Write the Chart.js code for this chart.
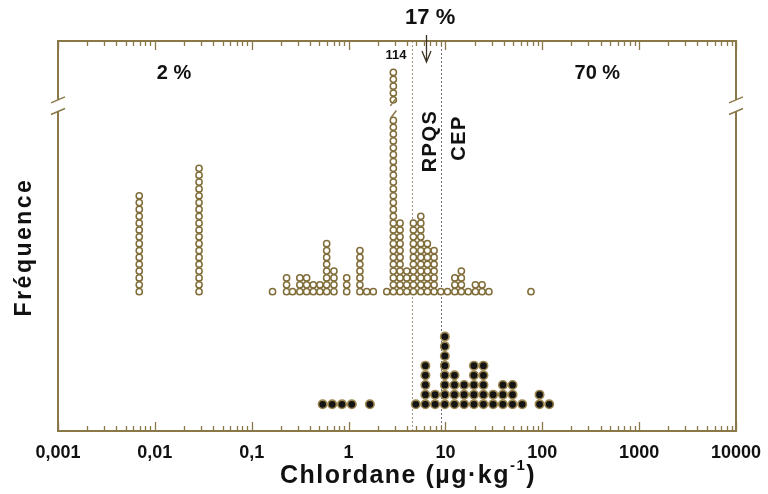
<!DOCTYPE html>
<html>
<head>
<meta charset="utf-8">
<script src="https://cdn.jsdelivr.net/npm/chart.js@4.4.1/dist/chart.umd.min.js"></script>
<style>
  html, body { margin: 0; padding: 0; background: #fff; }
</style>
</head>
<body>
<canvas id="dotchart" width="768" height="494"></canvas>
<script>
// upper dot plot (open circles): bin centre in µg/kg and number of samples in the bin
const upperBins = [0.0069, 0.0286, 0.164, 0.229, 0.264, 0.314, 0.369, 0.432, 0.506, 0.594, 0.706, 0.956,
  1.31, 1.54, 1.80, 2.48, 2.90, 3.40, 3.99, 4.67, 5.57, 6.51, 7.64, 8.96, 10.5, 12.5, 14.6, 17.2,
  20.4, 23.9, 28.1, 76.4];
const upperCounts = [15, 19, 1, 3, 1, 3, 3, 2, 2, 8, 4, 3,
  7, 1, 1, 1, 114, 11, 4, 11, 12, 8, 7, 1, 1, 3, 4, 1,
  2, 2, 1, 1];

// lower dot plot (filled circles)
const lowerBins = [0.54, 0.678, 0.855, 1.08, 1.66, 4.94, 6.21, 7.82, 9.86, 12.4, 15.6, 19.7,
  24.7, 31.1, 39.2, 49.3, 62.1, 93.7, 118];
const lowerCounts = [1, 1, 1, 1, 1, 1, 5, 2, 8, 4, 3, 5, 5, 2, 3, 3, 1, 2, 1];

const tickValues = [0.001, 0.01, 0.1, 1, 10, 100, 1000, 10000];
const tickLabels = ['0,001', '0,01', '0,1', '1', '10', '100', '1000', '10000'];

const rpqs = 4.5;   // RPQS
const cep = 8.9;    // CEP

// the 114 column is cut by the axis break
const shownBelowBreak = 26;
const shownAboveBreak = 5;
const breakRows = [27.3, 29.0];

const olive = '#8a7848';

function stackPoints(bins, counts) {
  const pts = [];
  bins.forEach((b, i) => {
    const n = counts[i];
    for (let k = 1; k <= n; k++) {
      if (n > shownBelowBreak + shownAboveBreak + 10) {
        if (k <= shownBelowBreak) pts.push({ x: b, y: k });
        else if (k > n - shownAboveBreak) pts.push({ x: b, y: k - n + shownBelowBreak + 2 + shownAboveBreak });
      } else {
        pts.push({ x: b, y: k });
      }
    }
  });
  return pts;
}

const decor = {
  id: 'decor',
  beforeDatasetsDraw(chart) {
    const { ctx, chartArea: a, scales: { x } } = chart;
    ctx.save();
    ctx.lineWidth = 1;
    ctx.setLineDash([2, 2]);
    ctx.strokeStyle = '#a89b7c';
    let px = Math.round(x.getPixelForValue(rpqs)) + 0.5;
    ctx.beginPath(); ctx.moveTo(px, a.top); ctx.lineTo(px, a.bottom); ctx.stroke();
    ctx.strokeStyle = '#707070';
    px = Math.round(x.getPixelForValue(cep)) + 0.5;
    ctx.beginPath(); ctx.moveTo(px, a.top); ctx.lineTo(px, a.bottom); ctx.stroke();
    ctx.restore();
  },
  afterDraw(chart) {
    const { ctx, chartArea: a, scales: { x, yUp } } = chart;
    ctx.save();
    const b1 = yUp.getPixelForValue(breakRows[1]);
    const b2 = yUp.getPixelForValue(breakRows[0]);

    // frame
    ctx.strokeStyle = olive;
    ctx.lineWidth = 2;
    ctx.beginPath();
    ctx.moveTo(a.left, a.top); ctx.lineTo(a.right, a.top);
    ctx.moveTo(a.left, a.bottom); ctx.lineTo(a.right, a.bottom);
    [a.left, a.right].forEach((ex) => {
      ctx.moveTo(ex, a.top - 1); ctx.lineTo(ex, b1);
      ctx.moveTo(ex, b2); ctx.lineTo(ex, a.bottom + 1);
    });
    ctx.stroke();

    // break marks
    ctx.lineWidth = 1.5;
    ctx.beginPath();
    [a.left, a.right].forEach((ex) => {
      [b1, b2].forEach((by) => {
        ctx.moveTo(ex - 7, by + 3); ctx.lineTo(ex + 7, by - 3);
      });
    });
    const cx = x.getPixelForValue(upperBins[upperCounts.indexOf(114)]);
    [b1 + 2, b2 + 3].forEach((by) => {
      ctx.moveTo(cx - 3, by + 4); ctx.lineTo(cx + 3, by - 4);
    });
    ctx.stroke();

    // ticks, pointing inwards
    ctx.lineWidth = 1.3;
    ctx.beginPath();
    for (let e = -3; e <= 4; e++) {
      for (let m = 1; m <= 9; m++) {
        const v = m * Math.pow(10, e);
        if (v > 10000) break;
        const p = Math.round(x.getPixelForValue(v)) + 0.5;
        const len = m === 1 ? 9 : 5;
        ctx.moveTo(p, a.bottom); ctx.lineTo(p, a.bottom - len);
        ctx.moveTo(p, a.top); ctx.lineTo(p, a.top + len);
      }
    }
    ctx.stroke();

    // tick labels
    ctx.fillStyle = '#111';
    ctx.font = 'bold 18px "Liberation Sans", Arial, sans-serif';
    ctx.textAlign = 'center';
    ctx.textBaseline = 'alphabetic';
    tickValues.forEach((v, i) => {
      ctx.fillText(tickLabels[i], x.getPixelForValue(v), a.bottom + 27);
    });

    // x title with superscript
    ctx.letterSpacing = '1.5px';
    ctx.textAlign = 'left';
    const big = 'bold 25px "Liberation Sans", Arial, sans-serif';
    const small = 'bold 15px "Liberation Sans", Arial, sans-serif';
    const p1 = 'Chlordane (µg·kg', p2 = '-1', p3 = ')';
    ctx.font = big; const w1 = ctx.measureText(p1).width; const w3 = ctx.measureText(p3).width;
    ctx.font = small; const w2 = ctx.measureText(p2).width;
    let tx = 408 - (w1 + w2 + w3) / 2;
    const ty = a.bottom + 52;
    ctx.font = big; ctx.fillText(p1, tx, ty); tx += w1;
    ctx.font = small; ctx.fillText(p2, tx, ty - 13); tx += w2;
    ctx.font = big; ctx.fillText(p3, tx, ty);

    // y title
    ctx.letterSpacing = '2.5px';
    ctx.font = 'bold 23px "Liberation Sans", Arial, sans-serif';
    ctx.textAlign = 'center';
    ctx.textBaseline = 'middle';
    ctx.save();
    ctx.translate(25, 247);
    ctx.rotate(-Math.PI / 2);
    ctx.fillText('Fréquence', 0, 0);
    ctx.restore();

    // RPQS / CEP labels
    ctx.letterSpacing = '1.5px';
    ctx.font = 'bold 20px "Liberation Sans", Arial, sans-serif';
    [['RPQS', 430, 141], ['CEP', 459, 138]].forEach(([t, lx, ly]) => {
      ctx.save();
      ctx.translate(lx, ly);
      ctx.rotate(-Math.PI / 2);
      ctx.fillText(t, 0, 0);
      ctx.restore();
    });

    // percentages
    ctx.letterSpacing = '0px';
    ctx.font = 'bold 20px "Liberation Sans", Arial, sans-serif';
    ctx.fillText('2 %', x.getPixelForValue(0.0158), a.top + 32);
    ctx.fillText('70 %', x.getPixelForValue(370), a.top + 32);
    ctx.font = 'bold 22px "Liberation Sans", Arial, sans-serif';
    ctx.fillText('17 %', x.getPixelForValue(6.95), a.top - 23);
    ctx.font = 'bold 13px "Liberation Sans", Arial, sans-serif';
    ctx.fillText('114', x.getPixelForValue(3.09), a.top + 14);

    // arrow
    const ax = Math.round(x.getPixelForValue(6.3)) + 0.5;
    ctx.strokeStyle = '#3a3222';
    ctx.lineWidth = 1.3;
    ctx.beginPath();
    ctx.moveTo(ax, a.top - 6); ctx.lineTo(ax, a.top + 20);
    ctx.moveTo(ax - 4.5, a.top + 10); ctx.lineTo(ax, a.top + 21); ctx.lineTo(ax + 4.5, a.top + 10);
    ctx.stroke();
    ctx.restore();
  }
};

new Chart(document.getElementById('dotchart'), {
  type: 'scatter',
  data: {
    datasets: [
      {
        label: 'upper',
        data: stackPoints(upperBins, upperCounts),
        yAxisID: 'yUp',
        pointRadius: 3.1,
        pointBorderWidth: 1.5,
        pointBackgroundColor: '#fff',
        pointBorderColor: '#7f6c37',
      },
      {
        label: 'lower',
        data: stackPoints(lowerBins, lowerCounts),
        yAxisID: 'yLow',
        pointRadius: 4.2,
        pointBorderWidth: 1.6,
        pointBackgroundColor: '#141414',
        pointBorderColor: '#9c8650',
      },
    ],
  },
  options: {
    responsive: false,
    animation: false,
    layout: { padding: { left: 58, right: 32, top: 41, bottom: 63 } },
    scales: {
      x: { type: 'logarithmic', min: 0.001, max: 10000, display: false },
      yUp: { type: 'linear', min: -19.34, max: 37.59, display: false },
      yLow: { type: 'linear', min: -1.76, max: 38.57, display: false },
    },
    plugins: {
      legend: { display: false },
      tooltip: { enabled: false },
    },
  },
  plugins: [decor],
});
</script>
</body>
</html>
